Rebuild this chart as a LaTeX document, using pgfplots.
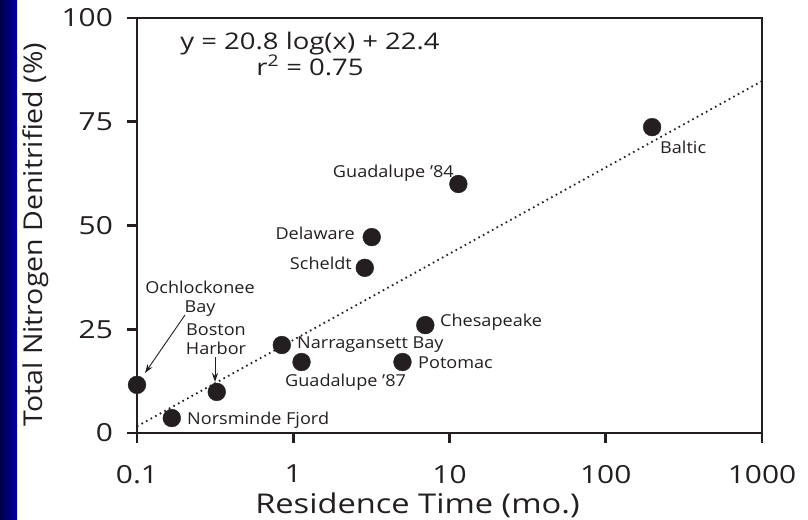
\documentclass[border=0pt]{standalone}
\usepackage{fontspec}
\setmainfont[FakeStretch=1.1]{Open Sans}
\newfontfamily\widefont[FakeStretch=1.2]{Open Sans}
\usepackage{pgfplots}
\pgfplotsset{compat=1.18}
\usetikzlibrary{arrows.meta}

\definecolor{slideblue}{HTML}{0000A0}
\definecolor{slidenavy}{HTML}{00004A}
\definecolor{ink}{HTML}{231F20}

\tikzset{lbl/.style={font=\fontsize{16.5}{18}\selectfont, text=ink, inner sep=0pt}}

\begin{document}
\begin{tikzpicture}
% blue strip of the slide
\shade[left color=slidenavy, right color=slideblue] (0,0) rectangle (17bp,520bp);
\begin{axis}[
at={(137bp,87bp)}, anchor=south west,
scale only axis,
width=625bp, height=415bp,
xmode=log,
xmin=0.1, xmax=1000,
ymin=0, ymax=100,
xtick={0.1,1,10,100,1000},
xticklabels={0.1,1,10,100,1000},
ytick={0,25,50,75,100},
xminorticks=false,
xtick pos=bottom, ytick pos=left,
tick align=outside,
major tick length=10bp,
every tick/.style={ink, line width=2.6bp},
axis line style={ink, line width=2.6bp},
ticklabel style={font=\widefont\fontsize{25}{28}\selectfont, text=ink, inner sep=0pt},
yticklabel style={anchor=east, xshift=-14bp},
xticklabel style={anchor=north, yshift=-22bp},
/pgf/number format/assume math mode=true,
xlabel={Residence Time (mo.)},
ylabel={Total Nitrogen Denitrified (\%)},
label style={text=ink, inner sep=0pt},
xlabel style={font=\widefont\fontsize{27.3}{30}\selectfont, at={(axis description cs:0.4488,-0.1928)}, anchor=base},
ylabel style={font=\fontsize{26}{28}\selectfont, at={(axis description cs:-0.152,0.478)}, anchor=base},
clip=false,
]
% regression line y = 20.8 log(x) + 22.4
\addplot[ink, line width=1.8bp, dash pattern=on 1.6bp off 3.6bp] coordinates {
(0.1, 1.6)
(1000, 84.8)
};
% estuaries
\addplot[only marks, mark=*, mark size=8.9bp, ink, mark options={fill=ink}] coordinates {
(0.1, 11.6)
(0.324, 9.9)
(0.167, 3.6)
(0.845, 21.2)
(1.13, 17.1)
(5.0, 17.1)
(7.0, 26.0)
(2.87, 39.8)
(3.18, 47.2)
(11.4, 60.0)
(198, 73.7)
};
\end{axis}
\begin{scope}[x=1bp, y=-1bp, shift={(0,520bp)}]
\node[lbl, anchor=base, font=\widefont\fontsize{23}{25}\selectfont] at (310,50) {y = 20.8 log(x) + 22.4};
\node[lbl, anchor=base, font=\widefont\fontsize{23}{25}\selectfont] at (310,76) {r\textsuperscript{2} = 0.75};
\node[lbl, anchor=east] at (454,173) {Guadalupe '84};
\node[lbl, anchor=east] at (355,233) {Delaware};
\node[lbl, anchor=east] at (352,263) {Scheldt};
\node[lbl, anchor=west] at (440,322) {Chesapeake};
\node[lbl, anchor=west] at (297,345) {Narragansett Bay};
\node[lbl, anchor=west] at (418,363) {Potomac};
\node[lbl, anchor=west] at (285,382) {Guadalupe '87};
\node[lbl, anchor=west] at (660,147) {Baltic};
\node[lbl, align=center] at (200,299) {Ochlockonee\\[1bp]Bay};
\node[lbl, align=center] at (216,339) {Boston\\[1bp]Harbor};
\node[lbl, anchor=west] at (187,420) {Norsminde Fjord};
\draw[ink, line width=0.9bp, -{Stealth[length=9bp,width=6bp]}] (185,315) -- (145,373);
\draw[ink, line width=0.9bp, -{Stealth[length=9bp,width=6bp]}] (215,357) -- (215,382);
\end{scope}
\pgfresetboundingbox
\path (0,0) rectangle (808bp,520bp);
\end{tikzpicture}
\end{document}
